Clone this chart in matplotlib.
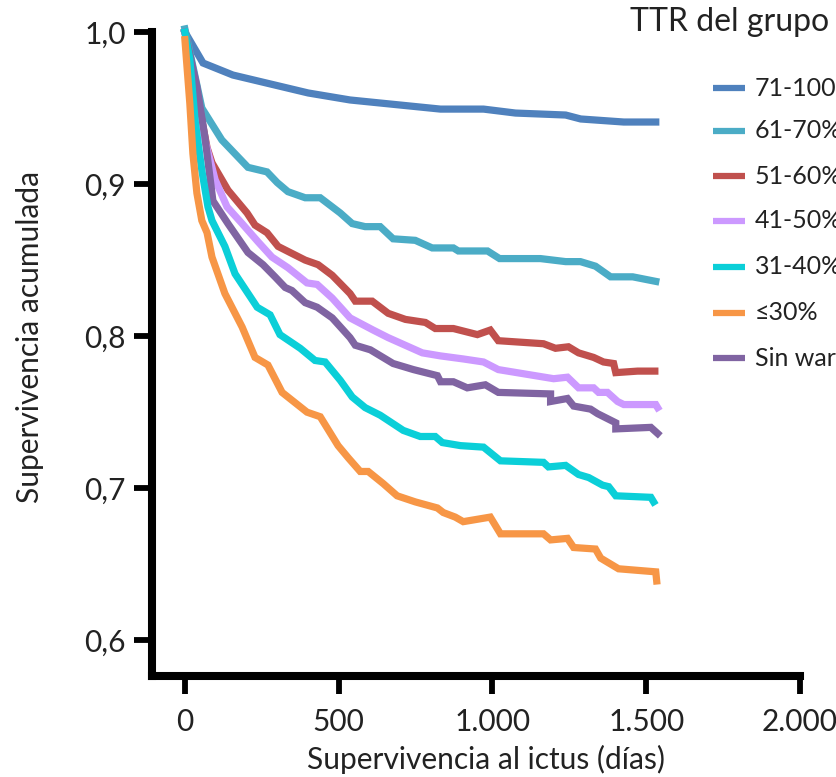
import matplotlib
matplotlib.use("Agg")
import matplotlib.pyplot as plt
from matplotlib.lines import Line2D

plt.rcParams['font.family'] = ['Lato', 'DejaVu Sans']

# ---- data ----
labels = ["71-100%", "61-70%", "51-60%", "41-50%", "31-40%", "\u226430%", "Sin warfarina"]
colors = ["#4F81BD", "#4BACC6", "#C0504D", "#CC99FF", "#0BCFD8", "#F79646", "#8064A2"]

x_7100 = [0, 59, 156, 293, 401, 537, 831, 971, 1075, 1238, 1287, 1427, 1531]
y_7100 = [1.0, 0.9796, 0.9717, 0.9651, 0.9599, 0.9553, 0.9493, 0.9493, 0.9467, 0.9454, 0.9428, 0.9408, 0.9408]

x_6170 = [0, 55, 120, 205, 267, 300, 335, 391, 440, 505, 544, 586, 635, 677, 749, 804, 873, 889, 984, 1023,
          1156, 1238, 1286, 1335, 1384, 1456, 1531]
y_6170 = [1.002, 0.950, 0.929, 0.911, 0.908, 0.901, 0.895, 0.891, 0.891, 0.881, 0.874, 0.872, 0.872, 0.864,
          0.863, 0.858, 0.858, 0.856, 0.856, 0.851, 0.851, 0.849, 0.849, 0.846, 0.839, 0.839, 0.836]

x_5160 = [0, 72, 88, 140, 202, 228, 267, 303, 342, 391, 433, 479, 537, 554, 609, 661, 717, 782, 814, 873,
          951, 993, 1019, 1166, 1205, 1247, 1280, 1329, 1361, 1394, 1401, 1472, 1528]
y_5160 = [1.0, 0.924, 0.914, 0.896, 0.881, 0.873, 0.868, 0.859, 0.855, 0.850, 0.847, 0.840, 0.828, 0.823,
          0.823, 0.815, 0.811, 0.809, 0.805, 0.805, 0.801, 0.804, 0.797, 0.795, 0.792, 0.793, 0.789, 0.786,
          0.783, 0.782, 0.776, 0.777, 0.777]

x_4150 = [0, 65, 98, 137, 186, 238, 283, 335, 397, 430, 479, 537, 612, 661, 772, 831, 905, 971, 1019, 1199,
          1244, 1280, 1329, 1345, 1374, 1407, 1427, 1531, 1537]
y_4150 = [1.0, 0.929, 0.903, 0.885, 0.874, 0.862, 0.852, 0.845, 0.835, 0.834, 0.825, 0.812, 0.804, 0.799,
          0.789, 0.787, 0.785, 0.783, 0.778, 0.772, 0.773, 0.766, 0.766, 0.763, 0.763, 0.757, 0.755, 0.755, 0.753]

x_3140 = [0, 16, 33, 55, 75, 88, 130, 163, 235, 277, 309, 375, 423, 456, 505, 544, 586, 635, 710, 765, 814,
          837, 896, 971, 1026, 1166, 1182, 1238, 1280, 1313, 1358, 1378, 1401, 1515, 1524]
y_3140 = [1.0, 0.982, 0.942, 0.909, 0.885, 0.876, 0.859, 0.841, 0.819, 0.814, 0.801, 0.792, 0.784, 0.783,
          0.771, 0.760, 0.753, 0.748, 0.738, 0.734, 0.734, 0.730, 0.728, 0.727, 0.718, 0.717, 0.714, 0.715,
          0.709, 0.707, 0.702, 0.701, 0.695, 0.694, 0.691]

x_le30 = [0, 16, 26, 39, 55, 72, 88, 130, 186, 228, 270, 316, 397, 440, 498, 531, 570, 596, 645, 690, 749,
          821, 840, 879, 905, 993, 1026, 1166, 1189, 1244, 1264, 1335, 1352, 1410, 1531, 1534]
y_le30 = [0.995, 0.953, 0.920, 0.894, 0.876, 0.868, 0.852, 0.828, 0.806, 0.786, 0.781, 0.763, 0.750, 0.747,
          0.728, 0.720, 0.711, 0.711, 0.703, 0.695, 0.691, 0.687, 0.684, 0.681, 0.678, 0.681, 0.670, 0.670,
          0.666, 0.667, 0.661, 0.660, 0.654, 0.647, 0.645, 0.639]

x_sinw = [0, 39, 65, 91, 140, 205, 254, 293, 326, 348, 391, 430, 479, 537, 554, 603, 677, 743, 821, 831, 873,
          918, 977, 1019, 1189, 1189, 1244, 1264, 1319, 1342, 1401, 1401, 1515, 1537]
y_sinw = [1.0, 0.964, 0.931, 0.889, 0.874, 0.855, 0.847, 0.839, 0.832, 0.830, 0.822, 0.819, 0.812, 0.799,
          0.794, 0.791, 0.782, 0.778, 0.774, 0.770, 0.770, 0.766, 0.768, 0.763, 0.762, 0.757, 0.759, 0.754,
          0.752, 0.749, 0.743, 0.739, 0.740, 0.736]

series = [(x_7100, y_7100), (x_6170, y_6170), (x_5160, y_5160), (x_4150, y_4150),
          (x_3140, y_3140), (x_le30, y_le30), (x_sinw, y_sinw)]
draw_order = [0, 1, 2, 3, 6, 4, 5]

xticks = [0, 500, 1000, 1500, 2000]
xticklabels = ["0", "500", "1.000", "1.500", "2.000"]
yticks = [0.6, 0.7, 0.8, 0.9, 1.0]
yticklabels = ["0,6", "0,7", "0,8", "0,9", "1,0"]

# ---- figure ----
W, H = 837, 777
FS = 21.5
TXT = '#222222'
fig = plt.figure(figsize=(W / 100, H / 100), dpi=100)
ax = fig.add_axes([152 / W, 1 - 676 / H, (800 - 152) / W, (676 - 32) / H])

for i in draw_order:
    xs, ys = series[i]
    ax.plot(xs, ys, color=colors[i], lw=5.2, solid_joinstyle='miter', clip_on=False, zorder=3)

ax.set_xlim(-107, 2000)
ax.set_ylim(0.5765, 1.0)
ax.set_xticks(xticks)
ax.set_xticklabels(xticklabels)
ax.set_yticks(yticks)
ax.set_yticklabels(yticklabels)

for s in ['top', 'right']:
    ax.spines[s].set_visible(False)
for s in ['left', 'bottom']:
    ax.spines[s].set_linewidth(5.8)
    ax.spines[s].set_color('black')
ax.tick_params(axis='both', direction='out', length=13, width=4.2, colors='black',
               labelsize=FS, labelcolor=TXT)
ax.tick_params(axis='y', pad=6)
ax.tick_params(axis='x', pad=10)

fig.text(30 / W, 1 - 337 / H, "Supervivencia acumulada", rotation=90, ha='center', va='center',
         fontsize=FS, color=TXT)
fig.text(486 / W, 1 - 759 / H, "Supervivencia al ictus (d\u00edas)", ha='center', va='center',
         fontsize=FS, color=TXT)

# legend (at the figure edge, partially cut off as in the reference)
fig.text(630 / W, 1 - 22 / H, "TTR del grupo", ha='left', va='center', fontsize=FS + 1.5, color=TXT)
leg_y = [88, 131, 176, 221, 267, 313, 358]
for i, yy in enumerate(leg_y):
    fig.add_artist(Line2D([713 / W, 745 / W], [1 - yy / H, 1 - yy / H], transform=fig.transFigure,
                          color=colors[i], lw=4.5, solid_capstyle='butt'))
    fig.text(755 / W, 1 - yy / H, labels[i], ha='left', va='center', fontsize=18, color=TXT)

fig.savefig("out.png", dpi=100)
